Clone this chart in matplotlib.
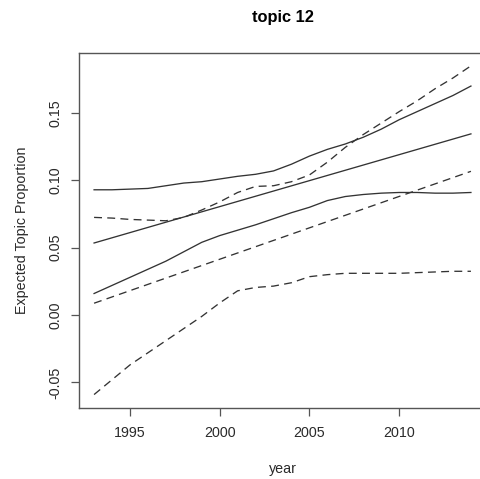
"""Expected topic proportion over years, topic 12 (R base-graphics look)."""
import matplotlib
matplotlib.use("Agg")
import matplotlib.pyplot as plt

plt.rcParams["font.family"] = ["Liberation Sans", "DejaVu Sans"]

# --- data -----------------------------------------------------------------
years = list(range(1993, 2015))

# solid lines: point estimate (straight) and its band
solid_mid_years = [1993, 2014]
solid_mid = [0.0535, 0.1345]
solid_upper = [0.093, 0.093, 0.0935, 0.094, 0.096, 0.098, 0.099, 0.101,
               0.103, 0.1045, 0.107, 0.112, 0.118, 0.123, 0.127, 0.132,
               0.138, 0.145, 0.151, 0.157, 0.163, 0.170]
solid_lower = [0.016, 0.022, 0.028, 0.034, 0.040, 0.047, 0.054, 0.059,
               0.063, 0.067, 0.0715, 0.076, 0.080, 0.085, 0.088, 0.0895,
               0.0905, 0.091, 0.091, 0.0905, 0.0905, 0.091]

# dashed lines: second estimate (straight) and its band
dashed_mid_years = [1993, 2014]
dashed_mid = [0.0088, 0.1067]
dashed_upper = [0.0725, 0.072, 0.071, 0.0705, 0.070, 0.0725, 0.078, 0.084,
                0.091, 0.0955, 0.096, 0.099, 0.104, 0.1135, 0.1245, 0.134,
                0.1425, 0.151, 0.159, 0.168, 0.176, 0.185]
dashed_lower = [-0.059, -0.048, -0.037, -0.028, -0.019, -0.010, -0.001, 0.009,
                0.018, 0.0205, 0.0215, 0.024, 0.0285, 0.030, 0.031, 0.031,
                0.031, 0.031, 0.0315, 0.032, 0.0325, 0.0325]

xticks = [1995, 2000, 2005, 2010]
yticks = [-0.05, 0.00, 0.05, 0.10, 0.15]

# --- figure ---------------------------------------------------------------
W, H = 481, 479
fig = plt.figure(figsize=(W / 100, H / 100), dpi=100)
# plot region runs past the right edge, as in the cropped original
ax = fig.add_axes([79 / W, (H - 407.7) / H, (486 - 79) / W, (407.7 - 52.7) / H])

ink = "#333333"
dash = (0, (6, 4))
ax.plot(solid_mid_years, solid_mid, color=ink, lw=0.95)
ax.plot(years, solid_upper, color=ink, lw=0.95)
ax.plot(years, solid_lower, color=ink, lw=0.95)
ax.plot(dashed_mid_years, dashed_mid, color=ink, lw=0.95, ls=dash)
ax.plot(years, dashed_upper, color=ink, lw=0.95, ls=dash)
ax.plot(years, dashed_lower, color=ink, lw=0.95, ls=dash)

# R-style 4% padding
x0, x1 = 1993, 2014
ax.set_xlim(x0 - 0.04 * (x1 - x0), x1 + 0.04 * (x1 - x0))
y0 = min(dashed_lower)
y1 = max(dashed_upper)
ax.set_ylim(y0 - 0.04 * (y1 - y0), y1 + 0.04 * (y1 - y0))

ax.set_xticks(xticks)
ax.set_xticklabels([str(v) for v in xticks])
ax.set_yticks(yticks)
ax.set_yticklabels([f"{v:.2f}" for v in yticks], rotation=90, va="center")
ax.tick_params(axis="both", length=6, width=0.9, color="#555555",
               labelsize=10.3, labelcolor="#2a2a2a")
ax.tick_params(axis="x", pad=7)
ax.tick_params(axis="y", pad=6)
for s in ax.spines.values():
    s.set_color("#555555")
    s.set_linewidth(1.0)

ax.set_xlabel("year", fontsize=10.3, color="#2a2a2a", labelpad=16)
ax.set_ylabel("Expected Topic Proportion", fontsize=10.3, color="#2a2a2a",
              labelpad=14)
ax.set_title("topic 12", fontsize=11.8, fontweight="bold", pad=22)

fig.savefig("out.png", dpi=100)
